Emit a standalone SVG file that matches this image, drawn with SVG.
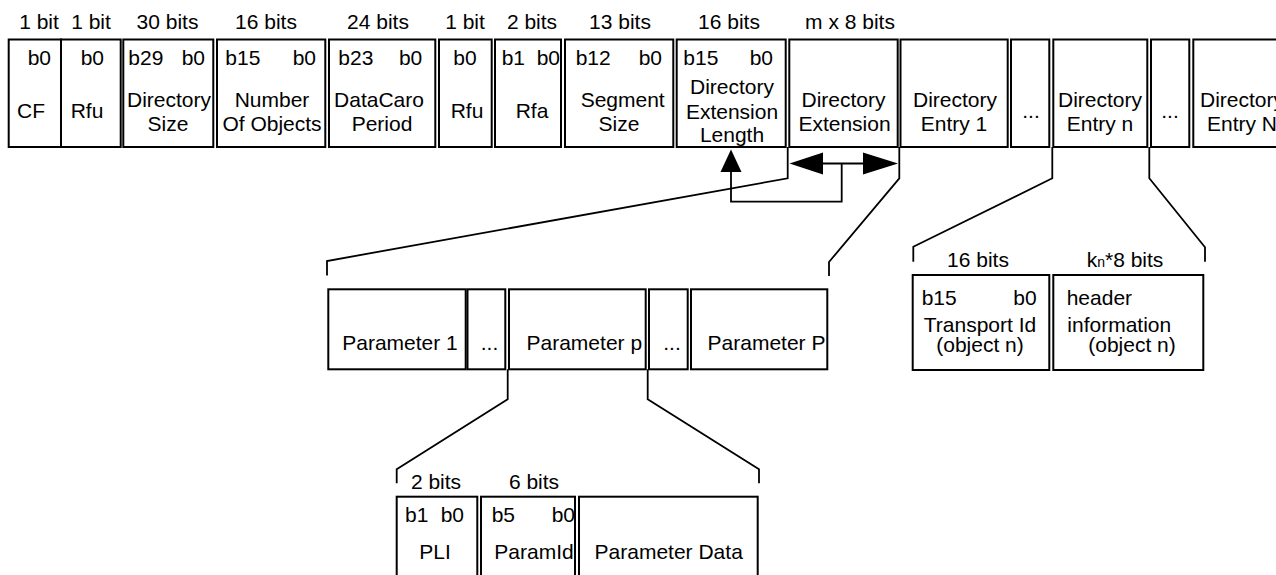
<svg xmlns="http://www.w3.org/2000/svg" width="1276" height="575" viewBox="0 0 1276 575">
<style>
text{font-family:"Liberation Sans",Arial,sans-serif;font-size:21px;fill:#000}
.m{text-anchor:middle}
.e{text-anchor:end}
.box{fill:#fff;stroke:#000;stroke-width:2}
.ln{fill:none;stroke:#000;stroke-width:1.8}
.head{fill:#000;stroke:none}
</style>
<rect width="1276" height="575" fill="#fff"/>
<g id="labels-top">
<text x="39" y="29" class="m">1 bit</text>
<text x="91" y="29" class="m">1 bit</text>
<text x="167.5" y="29" class="m">30 bits</text>
<text x="266" y="29" class="m">16 bits</text>
<text x="378" y="29" class="m">24 bits</text>
<text x="465" y="29" class="m">1 bit</text>
<text x="532" y="29" class="m">2 bits</text>
<text x="620" y="29" class="m">13 bits</text>
<text x="729" y="29" class="m">16 bits</text>
<text x="850" y="29" class="m">m x 8 bits</text>
</g>
<g id="cf"><rect class="box" x="8.7" y="39.5" width="52.3" height="107.5"/><text x="51" y="65" class="e">b0</text><text x="31" y="118" class="m">CF</text></g>
<g id="rfu1"><rect class="box" x="61" y="39.5" width="59.7" height="107.5"/><text x="104" y="65" class="e">b0</text><text x="87" y="118" class="m">Rfu</text></g>
<g id="dirsize"><rect class="box" x="123.3" y="39.5" width="90" height="107.5"/><text x="128.3" y="65">b29</text><text x="205" y="65" class="e">b0</text><text x="169" y="107" class="m">Directory</text><text x="168" y="131" class="m">Size</text></g>
<g id="numobj"><rect class="box" x="217" y="39.5" width="108.3" height="107.5"/><text x="225.3" y="65">b15</text><text x="316" y="65" class="e">b0</text><text x="272" y="107" class="m">Number</text><text x="272" y="131" class="m">Of Objects</text></g>
<g id="dcp"><rect class="box" x="329" y="39.5" width="106.3" height="107.5"/><text x="338.3" y="65">b23</text><text x="422.3" y="65" class="e">b0</text><text x="379" y="107" class="m">DataCaro</text><text x="382" y="131" class="m">Period</text></g>
<g id="rfu2"><rect class="box" x="439" y="39.5" width="52.7" height="107.5"/><text x="465" y="65" class="m">b0</text><text x="467" y="118" class="m">Rfu</text></g>
<g id="rfa"><rect class="box" x="495" y="39.5" width="66" height="107.5"/><text x="501.7" y="65">b1</text><text x="560" y="65" class="e">b0</text><text x="532" y="118" class="m">Rfa</text></g>
<g id="segsize"><rect class="box" x="565" y="39.5" width="108.3" height="107.5"/><text x="575.7" y="65">b12</text><text x="662" y="65" class="e">b0</text><text x="622.7" y="107" class="m">Segment</text><text x="619" y="131" class="m">Size</text></g>
<g id="del"><rect class="box" x="676.7" y="39.5" width="109" height="107.5"/><text x="683.3" y="65">b15</text><text x="773" y="65" class="e">b0</text><text x="732" y="94" class="m">Directory</text><text x="732" y="119" class="m">Extension</text><text x="732" y="142" class="m">Length</text></g>
<g id="dirext"><rect class="box" x="789.3" y="39.5" width="108.4" height="107.5"/><text x="843.5" y="107" class="m">Directory</text><text x="844.5" y="131" class="m">Extension</text></g>
<g id="entry1"><rect class="box" x="900.5" y="39.5" width="107.2" height="107.5"/><text x="955" y="107" class="m">Directory</text><text x="954" y="131" class="m">Entry 1</text></g>
<g id="dots1"><rect class="box" x="1011" y="39.5" width="38.3" height="107.5"/><text x="1031" y="118" class="m">...</text></g>
<g id="entryn"><rect class="box" x="1053.3" y="39.5" width="94" height="107.5"/><text x="1100" y="107" class="m">Directory</text><text x="1100" y="131" class="m">Entry n</text></g>
<g id="dots2"><rect class="box" x="1151" y="39.5" width="38.3" height="107.5"/><text x="1170" y="118" class="m">...</text></g>
<g id="entryN"><rect class="box" x="1193.3" y="39.5" width="100" height="107.5"/><text x="1242" y="107" class="m">Directory</text><text x="1242" y="131" class="m">Entry N</text></g>

<g id="param1"><rect class="box" x="328.3" y="289.3" width="137.4" height="80"/><text x="400" y="350" class="m">Parameter 1</text></g>
<g id="pdots1"><rect class="box" x="467.5" y="289.3" width="37.8" height="80"/><text x="489.5" y="350" class="m">...</text></g>
<g id="paramp"><rect class="box" x="509" y="289.3" width="136.7" height="80"/><text x="584.3" y="350" class="m">Parameter p</text></g>
<g id="pdots2"><rect class="box" x="649" y="289.3" width="38.7" height="80"/><text x="672" y="350" class="m">...</text></g>
<g id="paramP"><rect class="box" x="691" y="289.3" width="136.3" height="80"/><text x="766.5" y="350" class="m">Parameter P</text></g>

<g id="entry-detail">
<text x="978" y="266.7" class="m">16 bits</text>
<text x="1086.7" y="266.7">k<tspan font-size="14">n</tspan>*8 bits</text>
</g>
<g id="transportid"><rect class="box" x="912.7" y="275" width="136.6" height="95"/><text x="921.7" y="305">b15</text><text x="1036.7" y="305" class="e">b0</text><text x="980" y="331.7" class="m">Transport Id</text><text x="980" y="352" class="m">(object n)</text></g>
<g id="headerinfo"><rect class="box" x="1053.3" y="275" width="150" height="95"/><text x="1066.7" y="305">header</text><text x="1067.3" y="331.7">information</text><text x="1132" y="352" class="m">(object n)</text></g>

<g id="param-detail">
<text x="436" y="489" class="m">2 bits</text>
<text x="534" y="489" class="m">6 bits</text>
</g>
<g id="pli"><rect class="box" x="396.7" y="496.7" width="80.6" height="100"/><text x="405" y="521.7">b1</text><text x="464" y="521.7" class="e">b0</text><text x="435" y="559.3" class="m">PLI</text></g>
<g id="paramid"><rect class="box" x="481" y="496.7" width="94" height="100"/><text x="491.7" y="521.7">b5</text><text x="575" y="521.7" class="e">b0</text><text x="534" y="559.3" class="m">ParamId</text></g>
<g id="paramdata"><rect class="box" x="579" y="496.7" width="178.7" height="100"/><text x="668.7" y="559.3" class="m">Parameter Data</text></g>

<g id="connectors">
<polyline class="ln" points="787.7,147 787.7,178.3 327,261 327,275.5"/>
<polyline class="ln" points="899.3,147 899.3,178.3 829,262 829,276"/>
<line class="ln" x1="800" y1="163.5" x2="888" y2="163.5"/>
<polygon class="head" points="789.5,163.5 823,152.5 823,174.5"/>
<polygon class="head" points="898,163.5 863,152.5 863,174.5"/>
<polyline class="ln" points="841.7,163.5 841.7,201.7 731,201.7 731,168"/>
<polygon class="head" points="731,149.5 720.5,172 741.5,172"/>
<polyline class="ln" points="1052.3,147 1052.3,178.3 913.3,246.7 913.3,261.7"/>
<polyline class="ln" points="1149.3,147 1149.3,178.3 1205,247.3 1205,261.7"/>
<polyline class="ln" points="507.7,369.3 507.7,399.3 396.7,469.3 396.7,483.3"/>
<polyline class="ln" points="647.7,369.3 647.7,399.3 759,469.3 759,483.3"/>
</g>
</svg>
